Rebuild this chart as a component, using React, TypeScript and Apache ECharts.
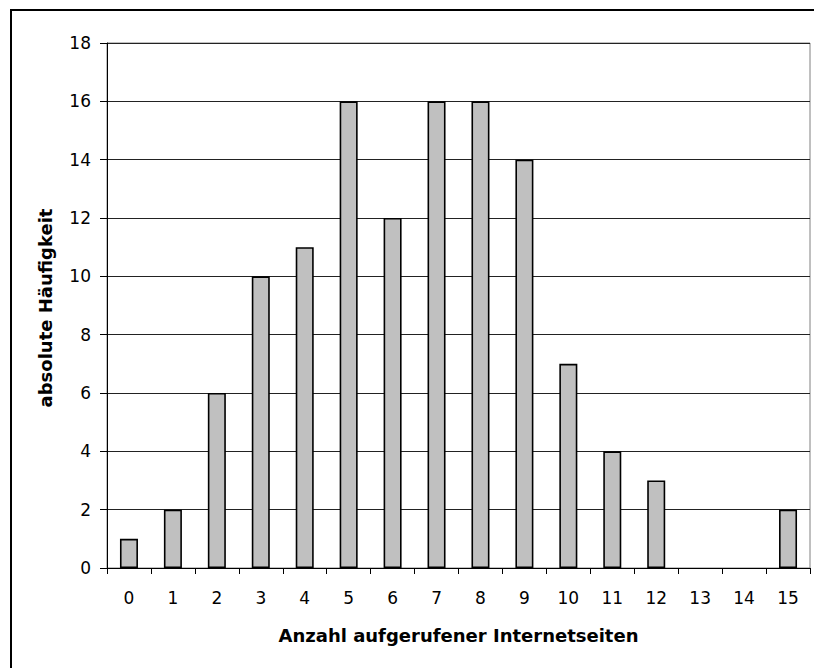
import React, { useEffect, useRef } from "react";
import * as echarts from "echarts";

const categories = ["0","1","2","3","4","5","6","7","8","9","10","11","12","13","14","15"];
const frequencies = [1, 2, 6, 10, 11, 16, 12, 16, 16, 14, 7, 4, 3, 0, 0, 2];
const xTitle = "Anzahl aufgerufener Internetseiten";
const yTitle = "absolute Häufigkeit";

export default function App() {
  const ref = useRef<HTMLDivElement>(null);
  useEffect(() => {
    if (!ref.current) return;
    const chart = echarts.init(ref.current, null, { renderer: "svg" });
    const font = "'DejaVu Sans', sans-serif";
    chart.setOption({
      animation: false,
      backgroundColor: "#ffffff",
      textStyle: { fontFamily: font },
      graphic: [
        {
          type: "rect",
          shape: { x: 11, y: 10, width: 900, height: 800 },
          style: { fill: "none", stroke: "#000", lineWidth: 2 },
          silent: true,
        },
        {
          type: "text",
          x: 45,
          y: 308,
          rotation: Math.PI / 2,
          style: {
            text: yTitle,
            fontFamily: font,
            fontSize: 18,
            fontWeight: "bold",
            fill: "#000",
            align: "center",
            verticalAlign: "middle",
          },
        },
      ],
      grid: {
        left: 107,
        top: 43,
        right: 4,
        bottom: 100,
        show: true,
        borderColor: "#808080",
        borderWidth: 1,
        backgroundColor: "transparent",
      },
      xAxis: {
        type: "category",
        data: categories,
        name: xTitle,
        nameLocation: "middle",
        nameGap: 58,
        nameTextStyle: { fontFamily: font, fontSize: 18, fontWeight: "bold", color: "#000" },
        axisLine: { lineStyle: { color: "#000", width: 1 } },
        axisTick: { show: true, length: 6, inside: false, lineStyle: { color: "#000" } },
        axisLabel: { fontFamily: font, fontSize: 17, color: "#000", margin: 21 },
        splitLine: { show: false },
      },
      yAxis: {
        type: "value",
        min: 0,
        max: 18,
        interval: 2,
        axisLine: { show: true, lineStyle: { color: "#000", width: 1 } },
        axisTick: { show: true, length: 7, lineStyle: { color: "#000" } },
        axisLabel: { fontFamily: font, fontSize: 17, color: "#000", margin: 16 },
        splitLine: { show: true, lineStyle: { color: "#222", width: 1 } },
      },
      series: [
        {
          type: "bar",
          data: frequencies.map((v) =>
            v === 0 ? { value: v, itemStyle: { borderWidth: 0 } } : v
          ),
          barWidth: "41%",
          itemStyle: { color: "#c0c0c0", borderColor: "#000", borderWidth: 1.6 },
        },
      ],
    });
    return () => chart.dispose();
  }, []);
  return (
    <div
      ref={ref}
      style={{ position: "fixed", left: 0, top: 0, width: 814, height: 668, background: "#fff" }}
    />
  );
}
